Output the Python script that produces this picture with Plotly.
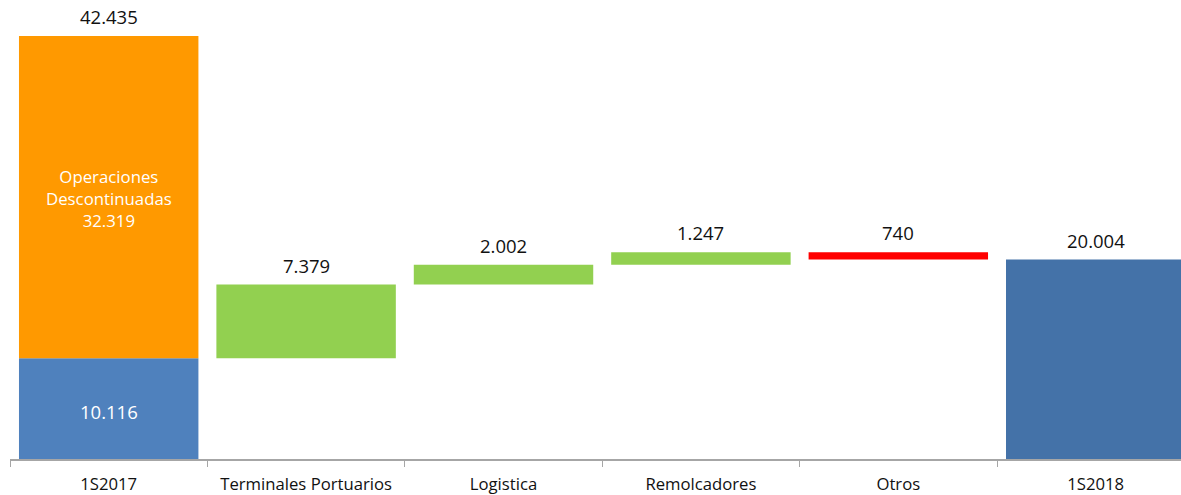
import plotly.graph_objects as go

categories = ["1S2017", "Terminales Portuarios", "Logistica", "Remolcadores", "Otros", "1S2018"]
start_continuing = 10.116
discontinued = 32.319
deltas = [7.379, 2.002, 1.247, -0.740]
end_total = 20.004
value_labels = ["42.435", "7.379", "2.002", "1.247", "740", "20.004"]
first_inner_label = "10.116"
disc_label = "Operaciones<br>Descontinuadas<br>32.319"

BLUE1 = "#4F81BD"
BLUE2 = "#4472A8"
ORANGE = "#FF9900"
GREEN = "#92D050"
RED = "#FF0000"

fig = go.Figure()

# First bar: stacked continuing + discontinued
fig.add_trace(go.Bar(x=[categories[0]], y=[start_continuing], base=[0],
                     marker=dict(color=BLUE1, line=dict(width=0)), hoverinfo="skip"))
fig.add_trace(go.Bar(x=[categories[0]], y=[discontinued], base=[start_continuing],
                     marker=dict(color=ORANGE, line=dict(width=0)), hoverinfo="skip"))

# Floating delta bars
level = start_continuing
tops = [start_continuing + discontinued]
for cat, d in zip(categories[1:5], deltas):
    base = level if d >= 0 else level + d
    color = GREEN if d >= 0 else RED
    fig.add_trace(go.Bar(x=[cat], y=[abs(d)], base=[base],
                         marker=dict(color=color, line=dict(width=0)), hoverinfo="skip"))
    tops.append(max(level, level + d))
    level += d

fig.add_trace(go.Bar(x=[categories[5]], y=[end_total], base=[0],
                     marker=dict(color=BLUE2, line=dict(width=0)), hoverinfo="skip"))
tops.append(end_total)

FONT = "Open Sans, Noto Sans, sans-serif"
annotations = []
for cat, top, lab in zip(categories, tops, value_labels):
    annotations.append(dict(x=cat, y=top, text=lab, showarrow=False, yanchor="bottom",
                            yshift=5, font=dict(family=FONT, size=18.5, color="#111111")))
annotations.append(dict(x=categories[0], y=start_continuing / 2, text=first_inner_label,
                        showarrow=False, yanchor="middle", yshift=-3,
                        font=dict(family=FONT, size=18.5, color="white")))
annotations.append(dict(x=categories[0], y=start_continuing + discontinued / 2, text=disc_label,
                        showarrow=False, yanchor="middle", yshift=-1,
                        font=dict(family=FONT, size=16.8, color="white")))

fig.update_layout(
    width=1181, height=495,
    margin=dict(l=10, r=0, t=10, b=36, autoexpand=False),
    paper_bgcolor="white", plot_bgcolor="white",
    barmode="overlay", bargap=0.091, showlegend=False,
    annotations=annotations,
    xaxis=dict(type="category", range=[-0.5, 5.432], showgrid=False,
               showline=True, linecolor="#A6A6A6", linewidth=1.5,
               ticks="outside", tickson="boundaries", ticklen=6, tickcolor="#A6A6A6",
               ticklabelstandoff=9,
               tickfont=dict(family=FONT, size=16.7, color="#111111")),
    yaxis=dict(range=[0, 45.04], visible=False, showgrid=False, zeroline=False),
)

fig.write_html("out.html",
               config={"displayModeBar": False, "staticPlot": True},
               post_script="document.body.style.margin='0';document.body.style.overflow='hidden';")
